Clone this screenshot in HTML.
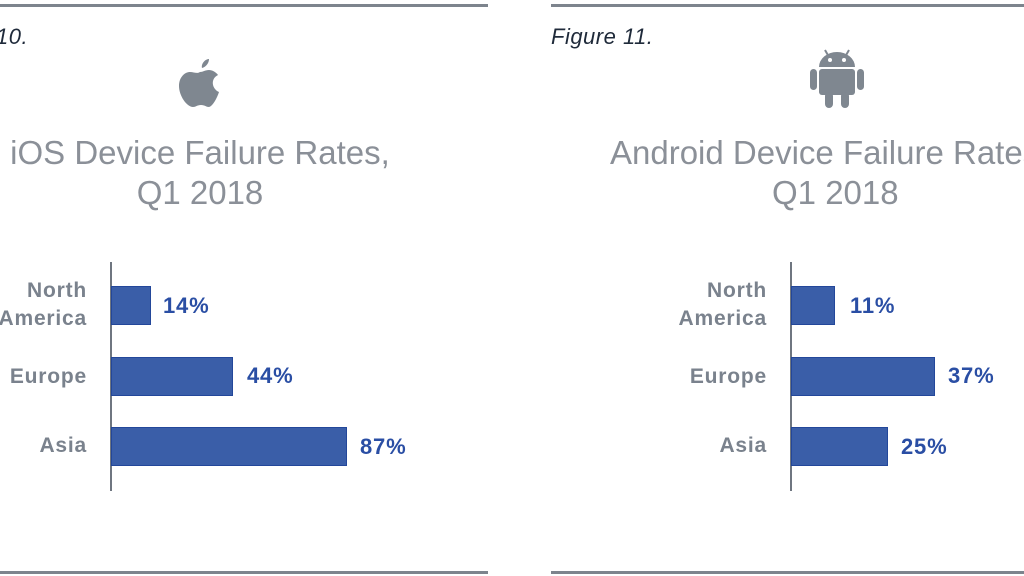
<!DOCTYPE html>
<html><head><meta charset="utf-8"><style>
body{margin:0;width:1024px;height:576px;background:#fff;position:relative;overflow:hidden;font-family:"Liberation Sans",sans-serif}
.a{position:absolute}
.line{position:absolute;height:3px;background:#7d848d}
.fig{font-style:italic;font-size:22px;color:#1f2a3a;letter-spacing:0.5px}
.title{font-size:33px;color:#8b9098;text-align:center;line-height:40px;white-space:nowrap}
.lab{font-weight:bold;font-size:21px;color:#7a828d;text-align:right;line-height:28px;letter-spacing:0.8px}
.bar{position:absolute;background:#3a5ea8;border:1px solid #23479a;box-sizing:border-box;height:39px}
.val{position:absolute;font-weight:bold;font-size:22px;color:#2a4ea4;letter-spacing:0.8px}
.ax{position:absolute;width:2px;background:#6f7680;top:262px;height:229px}
</style></head><body>
<div class="line" style="left:0;width:488px;top:4px"></div>
<div class="line" style="left:551px;width:473px;top:4px"></div>
<div class="line" style="left:0;width:488px;top:571px"></div>
<div class="line" style="left:551px;width:473px;top:571px"></div>

<div class="a fig" style="left:-4px;top:24px">10.</div>
<div class="a fig" style="left:551px;top:24px">Figure 11.</div>

<svg class="a" style="left:178px;top:57px" width="46" height="52" viewBox="0 0 46 52">
<path fill="#7f8790" d="M31 2c0 4-3 8-7 9-1-4 3-9 7-9zM22 15c3 0 5-2 9-2 3 0 7 2 9 5-8 4-6 14 1 17-2 6-6 14-10 15-3 0-4-2-8-2s-5 2-8 2C9 50 1 39 1 29c0-9 6-14 11-14 4 0 7 2 10 0z"/>
</svg>
<svg class="a" style="left:810px;top:48px" width="54" height="62" viewBox="0 0 54 62">
<g fill="#7f8790">
<path d="M9 19a18 15 0 0 1 36 0z"/>
<rect x="9" y="21" width="36" height="26" rx="3"/>
<rect x="0" y="21" width="7" height="21" rx="3.5"/>
<rect x="47" y="21" width="7" height="21" rx="3.5"/>
<rect x="15" y="44" width="8" height="16" rx="4"/>
<rect x="31" y="44" width="8" height="16" rx="4"/>
<path d="M15 2l4 7M39 2l-4 7" stroke="#7f8790" stroke-width="2"/>
</g>
<circle cx="20" cy="12" r="2" fill="#fff"/><circle cx="34" cy="12" r="2" fill="#fff"/>
</svg>

<div class="a title" style="left:0;width:400px;top:133px">iOS Device Failure Rates,<br>Q1 2018</div>
<div class="a title" style="left:610px;width:460px;top:133px;text-align:left">Android Device Failure Rates,<br><span style="margin-left:162px">Q1 2018</span></div>

<div class="ax" style="left:110px"></div>
<div class="a lab" style="right:937px;top:277px">North<br>America</div>
<div class="a lab" style="right:937px;top:363px">Europe</div>
<div class="a lab" style="right:937px;top:432px">Asia</div>
<div class="bar" style="left:111px;top:286px;width:40px"></div>
<div class="bar" style="left:111px;top:357px;width:122px"></div>
<div class="bar" style="left:111px;top:427px;width:236px"></div>
<div class="val" style="left:163px;top:293px">14%</div>
<div class="val" style="left:247px;top:363px">44%</div>
<div class="val" style="left:360px;top:434px">87%</div>

<div class="ax" style="left:790px"></div>
<div class="a lab" style="right:257px;top:277px">North<br>America</div>
<div class="a lab" style="right:257px;top:363px">Europe</div>
<div class="a lab" style="right:257px;top:432px">Asia</div>
<div class="bar" style="left:791px;top:286px;width:44px"></div>
<div class="bar" style="left:791px;top:357px;width:144px"></div>
<div class="bar" style="left:791px;top:427px;width:97px"></div>
<div class="val" style="left:850px;top:293px">11%</div>
<div class="val" style="left:948px;top:363px">37%</div>
<div class="val" style="left:901px;top:434px">25%</div>
</body></html>
